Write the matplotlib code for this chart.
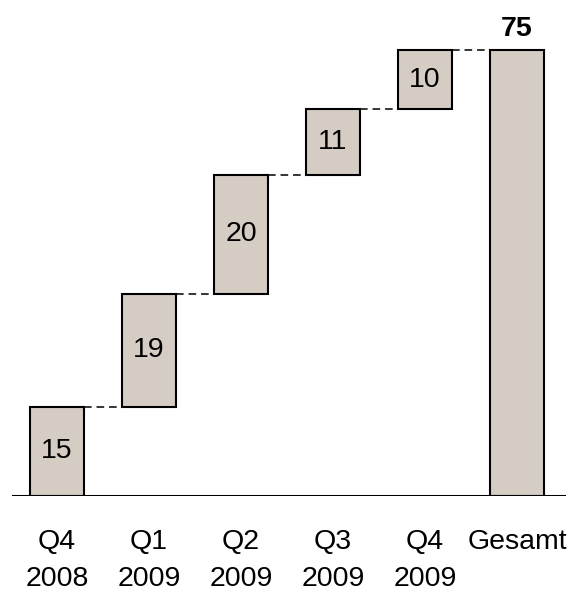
import matplotlib
matplotlib.use("Agg")
import matplotlib.pyplot as plt

categories = ["Q4\n2008", "Q1\n2009", "Q2\n2009", "Q3\n2009", "Q4\n2009", "Gesamt"]
increments = [15, 19, 20, 11, 10]
total = sum(increments)

plt.rcParams["font.family"] = ["Liberation Sans", "DejaVu Sans"]

W, H = 572, 595
fig = plt.figure(figsize=(W / 100, H / 100), dpi=100)
left_px, right_px, bottom_px, top_px = 12, 566, 496, 0
ax = fig.add_axes([left_px / W, 1 - bottom_px / H, (right_px - left_px) / W, (bottom_px - top_px) / H])

step = 92.0
bar_w = 54 / step
x0 = (57 - left_px) / step
ax.set_xlim(-x0, -x0 + (right_px - left_px) / step)
ppu = (496 - 50) / total
ax.set_ylim(0, (bottom_px - top_px) / ppu)

face = "#d5ccc4"
bottoms = []
acc = 0
for v in increments:
    bottoms.append(acc)
    acc += v
xs = list(range(len(categories)))
heights = increments + [total]
bases = bottoms + [0]
ax.bar(xs, heights, bottom=bases, width=bar_w, color=face, edgecolor="black", linewidth=1.5, zorder=2)

# dashed connectors between consecutive bar tops
tops = [b + h for b, h in zip(bases, heights)]
for i in range(len(xs) - 1):
    ax.plot([xs[i] + bar_w / 2, xs[i + 1] - bar_w / 2], [tops[i], tops[i]],
            color="black", linestyle=(0, (5, 3.2)), linewidth=1.1, zorder=1)

fs = 20.5
for i, v in enumerate(increments):
    ax.text(xs[i], bases[i] + v / 2, str(v), ha="center", va="center", fontsize=fs)
ax.text(xs[-1], total + 1.4, str(total), ha="center", va="bottom", fontsize=fs, fontweight="bold")

ax.axhline(0, color="black", linewidth=2.2, zorder=3)
for s in ax.spines.values():
    s.set_visible(False)
ax.set_yticks([])
ax.set_xticks(xs)
ax.set_xticklabels(categories, fontsize=fs, linespacing=1.55)
ax.tick_params(axis="x", length=0, pad=24)

fig.savefig("out.png", dpi=100)
